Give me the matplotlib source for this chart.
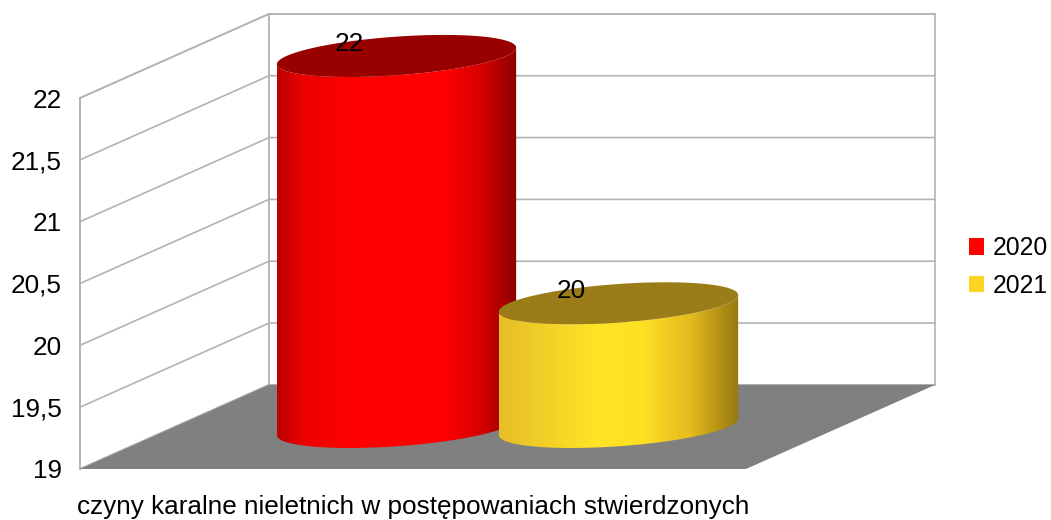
import numpy as np
import matplotlib
matplotlib.use('Agg')
import matplotlib.pyplot as plt
from matplotlib.patches import Polygon, Patch

plt.rcParams['font.family'] = ['Liberation Sans', 'DejaVu Sans']

# dane
kategoria = 'czyny karalne nieletnich w postępowaniach stwierdzonych'
lata = ['2020', '2021']
wartosci = [22, 20]
y_min, y_max, y_krok = 19, 22, 0.5

kolory_boki = [
    [(0.0, (190, 0, 0)), (0.12, (238, 0, 0)), (0.3, (255, 0, 0)), (0.7, (255, 0, 0)),
     (0.86, (212, 0, 0)), (1.0, (140, 0, 0))],
    [(0.0, (230, 190, 40)), (0.4, (255, 228, 38)), (0.6, (255, 224, 35)),
     (0.8, (228, 186, 30)), (1.0, (150, 120, 15))],
]
kolory_gora = ['#990000', '#9a7d18']
kolory_legenda = ['#ff0000', '#ffd320']

# geometria rzutu ukośnego (głębokość -> przesunięcie w jednostkach danych)
DX, DY = 0.2838, 0.680
RX, RD = 0.165, 0.25   # promień walca w osi x i w głębokości
SZER = 1 / 3
FS = 18.8

fig = plt.figure(figsize=(10.51, 5.2), dpi=100)
ax = fig.add_axes([80 / 1051, 51 / 520, 666 / 1051, 371 / 520])
ax.set_xlim(-0.5, 0.5)
ax.set_ylim(y_min, y_max)
for s in ax.spines.values():
    s.set_visible(False)
ax.patch.set_visible(False)


def rzut(x, v, d):
    return x + d * DX, v + d * DY


siatka = '#b3b3b3'
# sciany
sciana_lewa = [rzut(-0.5, y_min, 0), rzut(-0.5, y_max, 0), rzut(-0.5, y_max, 1), rzut(-0.5, y_min, 1)]
sciana_tyl = [rzut(-0.5, y_min, 1), rzut(-0.5, y_max, 1), rzut(0.5, y_max, 1), rzut(0.5, y_min, 1)]
for pts in (sciana_lewa, sciana_tyl):
    ax.add_patch(Polygon(pts, closed=True, facecolor='white', edgecolor=siatka,
                         lw=1.2, clip_on=False, zorder=1))
for v in np.arange(y_min, y_max + 0.01, y_krok):
    p = [rzut(-0.5, v, 0), rzut(-0.5, v, 1), rzut(0.5, v, 1)]
    ax.plot([q[0] for q in p], [q[1] for q in p], color=siatka, lw=1.2,
            clip_on=False, zorder=2)

# podloga
podloga = [rzut(-0.5, y_min, 0), rzut(0.5, y_min, 0), rzut(0.5, y_min, 1), rzut(-0.5, y_min, 1)]
ax.add_patch(Polygon(podloga, closed=True, facecolor='#808080', edgecolor='none',
                     clip_on=False, zorder=3))


def gradient(stopy, n=300):
    pos = [s[0] for s in stopy]
    arr = np.zeros((1, n, 3))
    xs = np.linspace(0, 1, n)
    for k in range(3):
        arr[0, :, k] = np.interp(xs, pos, [s[1][k] / 255 for s in stopy])
    return arr


def pierscien(xc, v, t):
    x = xc + RX * np.cos(t) + RD * DX * np.sin(t) + 0.5 * DX
    y = v + RD * DY * np.sin(t) + 0.5 * DY
    return x, y


t0 = np.arctan2(RD * DX, RX)
przod = np.linspace(t0 + np.pi, t0 + 2 * np.pi, 120)
cale = np.linspace(0, 2 * np.pi, 240)

for i, (rok, val) in enumerate(zip(lata, wartosci)):
    xc = -0.5 + SZER * (i + 1)
    xg, yg = pierscien(xc, val, przod)
    xd, yd = pierscien(xc, y_min, przod[::-1])
    bok = Polygon(np.column_stack([np.r_[xg, xd], np.r_[yg, yd]]), closed=True,
                  transform=ax.transData)
    im = ax.imshow(gradient(kolory_boki[i]), extent=[xg.min(), xg.max(), y_min - 1, val + 1],
                   aspect='auto', interpolation='bilinear', zorder=4 + i)
    im.set_clip_box(fig.bbox)
    im.set_clip_path(bok)
    xt, yt = pierscien(xc, val, cale)
    ax.fill(xt, yt, color=kolory_gora[i], lw=0, clip_on=False, zorder=4 + i)
    ax.annotate(str(val), rzut(xc, val, 0.25), xytext=(0, 24), textcoords='offset points',
                ha='center', va='center', fontsize=FS, zorder=10, annotation_clip=False)

ax.set_xlim(-0.5, 0.5)
ax.set_ylim(y_min, y_max)

ticks = np.arange(y_min, y_max + 0.01, y_krok)
ax.set_yticks(ticks)
ax.set_yticklabels([f'{t:g}'.replace('.', ',') for t in ticks])
ax.set_xticks([0])
ax.set_xticklabels([kategoria])
ax.tick_params(axis='y', length=0, pad=13, labelsize=FS)
ax.tick_params(axis='x', length=0, pad=19, labelsize=FS)
ax.plot([-0.5, -0.5], [y_min, y_max], color=siatka, lw=1.2, clip_on=False, zorder=2)

uchwyty = [Patch(facecolor=c, edgecolor='none', label=r) for c, r in zip(kolory_legenda, lata)]
fig.legend(handles=uchwyty, loc='center left', bbox_to_anchor=(969 / 1051, 1 - 267 / 520),
           frameon=False, fontsize=17.8, handlelength=0.62, handleheight=0.62,
           handletextpad=0.35, labelspacing=0.55, borderpad=0, borderaxespad=0)

fig.savefig('out.png', dpi=100)
